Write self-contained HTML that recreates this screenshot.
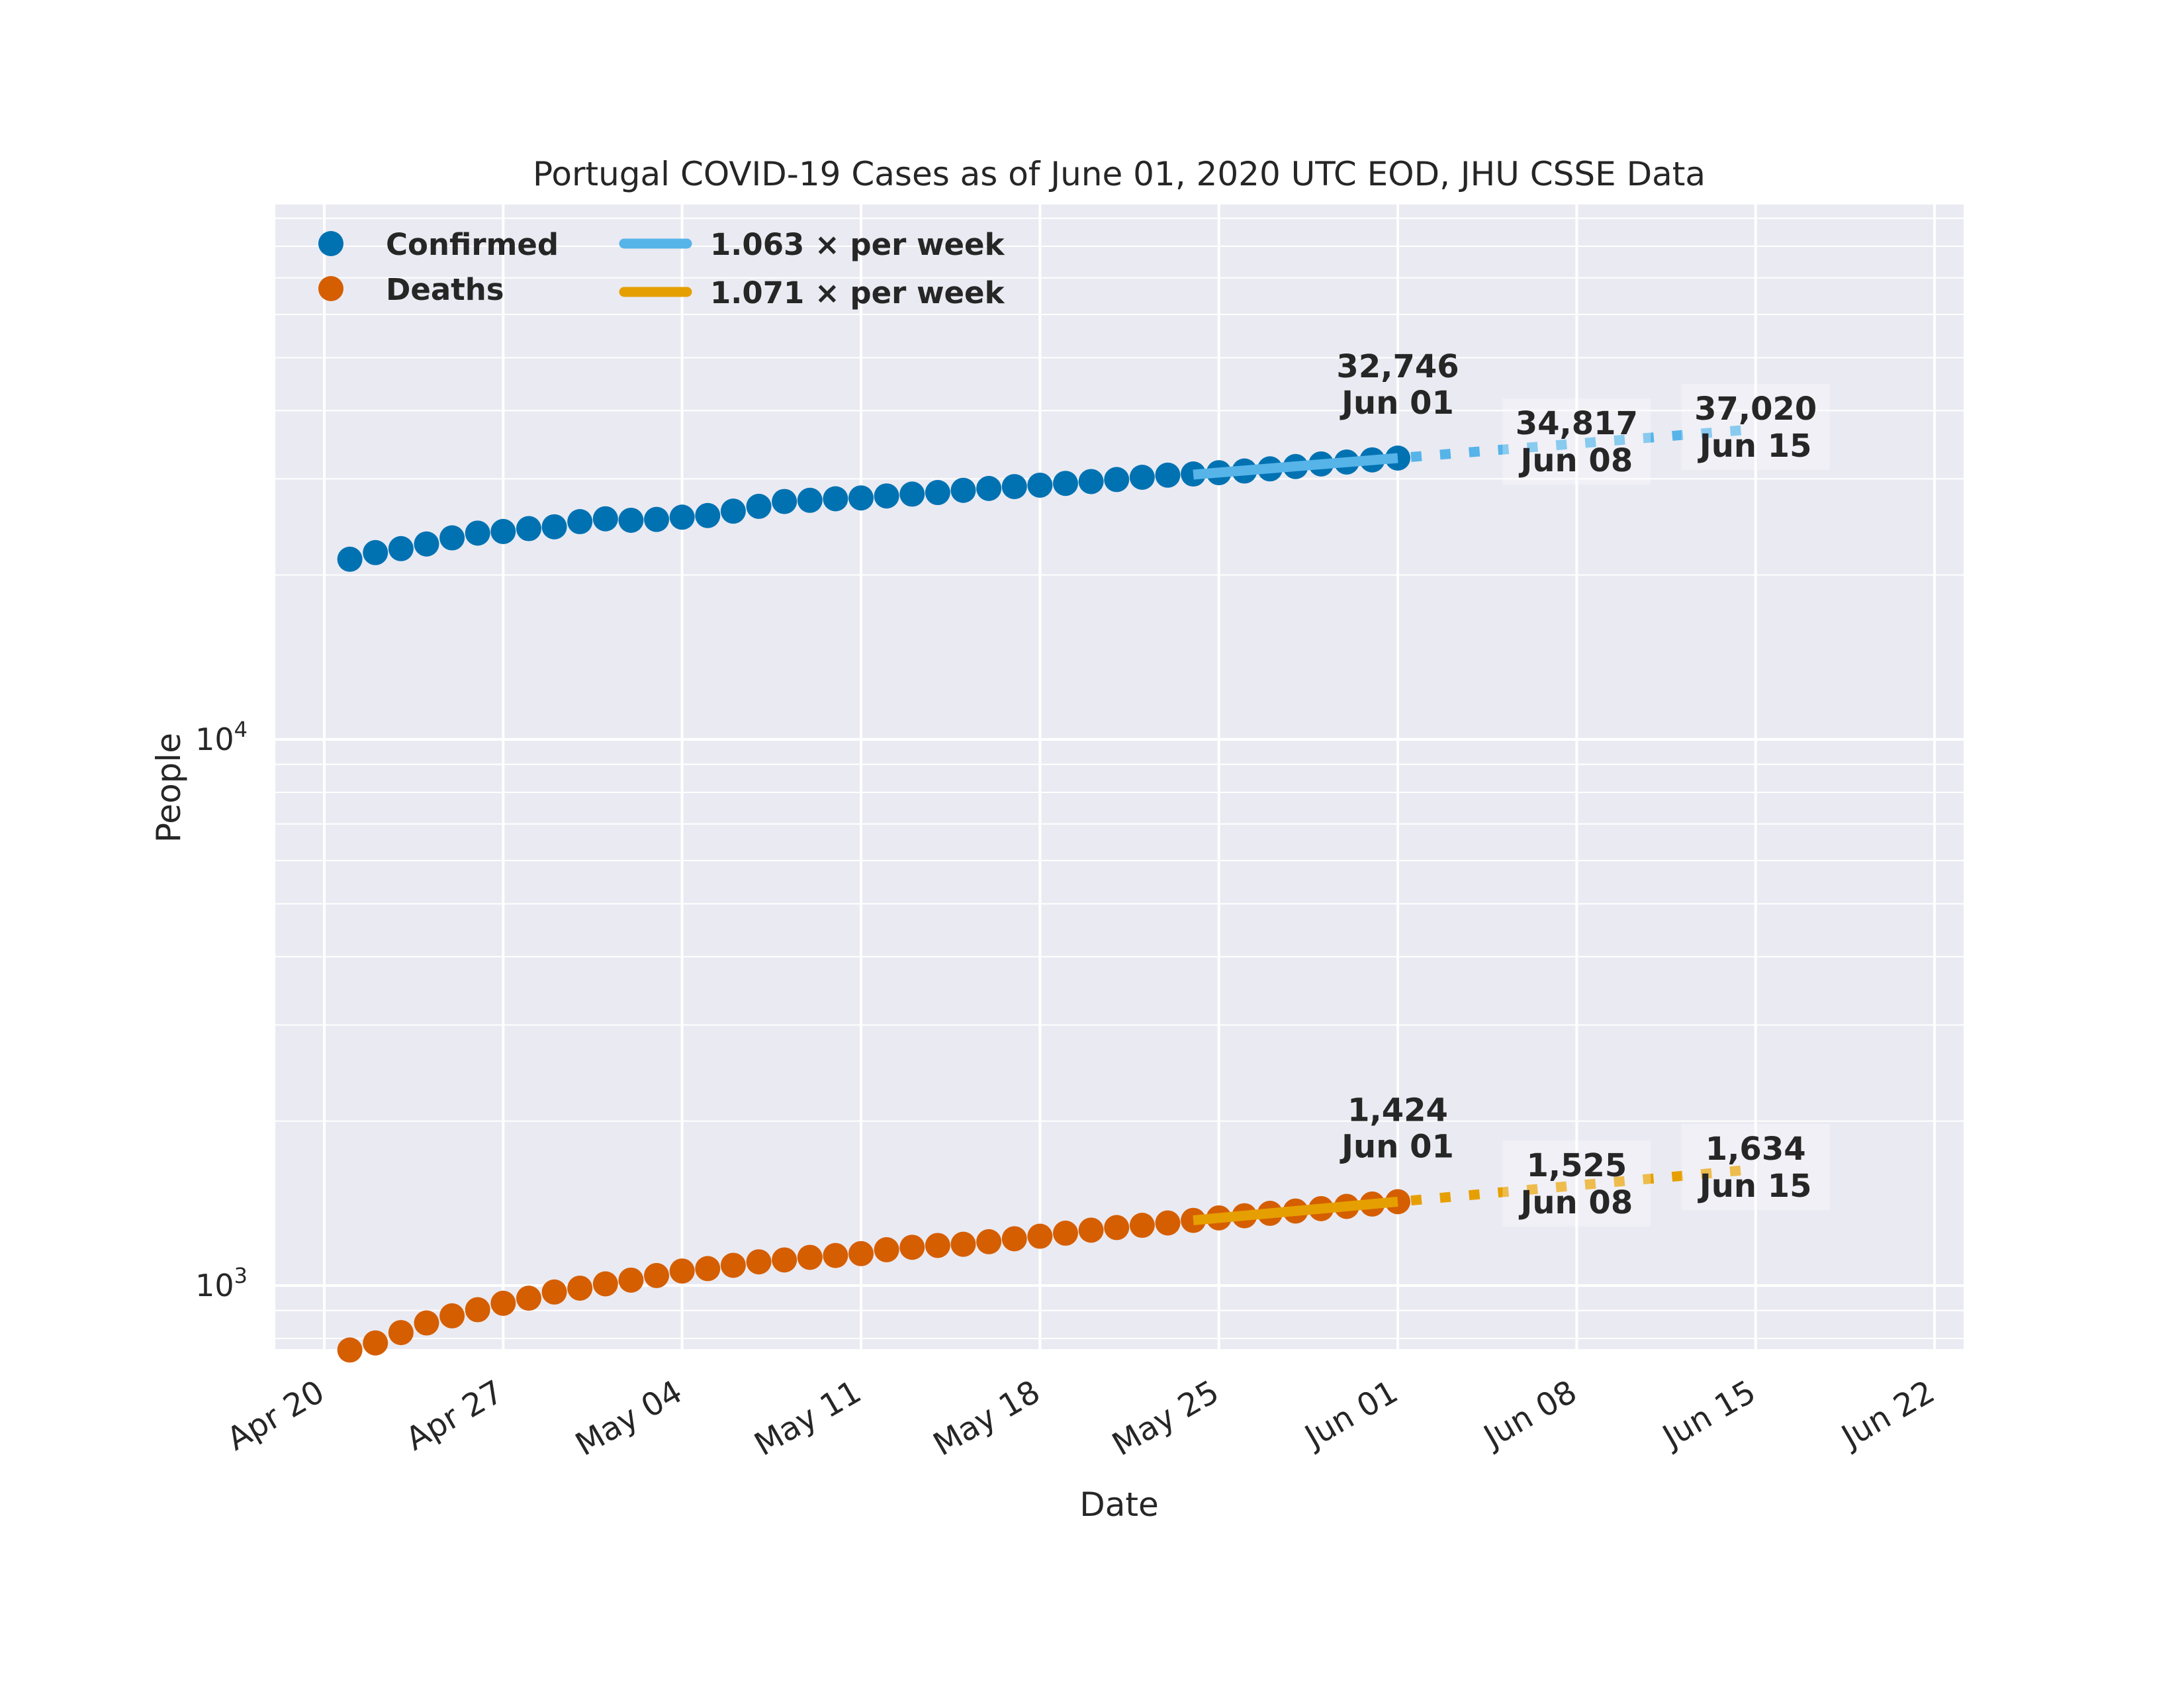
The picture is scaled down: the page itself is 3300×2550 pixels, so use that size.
<!DOCTYPE html>
<html><head><meta charset="utf-8"><style>
html,body{margin:0;padding:0;background:#fff}
svg{display:block;font-family:"DejaVu Sans","Liberation Sans",sans-serif}
</style></head><body>
<svg id="chart" width="3300" height="2550" viewBox="0 0 3300 2550" xmlns="http://www.w3.org/2000/svg">
<rect x="0" y="0" width="3300" height="2550" fill="#fff"/>
<rect x="416" y="309" width="2551" height="1729" fill="#eaeaf2"/>
<g id="grid"></g>
<g id="series"></g>
<g id="annots"></g>
<g id="axes"></g>
<text x="1691" y="280" font-size="50" fill="#262626" text-anchor="middle">Portugal COVID-19 Cases as of June 01, 2020 UTC EOD, JHU CSSE Data</text>
<text x="1691" y="2290" font-size="50" fill="#262626" text-anchor="middle">Date</text>
<text transform="translate(272,1190) rotate(-90)" font-size="50" fill="#262626" text-anchor="middle">People</text>
<g>
<circle cx="500" cy="368" r="19" fill="#0072b2"/>
<text x="583" y="385" font-size="45" font-weight="bold" fill="#262626">Confirmed</text>
<circle cx="500" cy="436" r="19" fill="#d55e00"/>
<text x="583" y="453" font-size="45" font-weight="bold" fill="#262626">Deaths</text>
<line x1="943" y1="368" x2="1038" y2="368" stroke="#56b4e9" stroke-width="15" stroke-linecap="round"/>
<text x="1073" y="385" font-size="45" font-weight="bold" fill="#262626">1.063 × per week</text>
<line x1="943" y1="441" x2="1038" y2="441" stroke="#e69f00" stroke-width="15" stroke-linecap="round"/>
<text x="1073" y="458" font-size="45" font-weight="bold" fill="#262626">1.071 × per week</text>
</g>
</svg>
<script>
const NS="http://www.w3.org/2000/svg";
// day index 0 = Apr 20
const xTickLabels=["Apr 20","Apr 27","May 04","May 11","May 18","May 25","Jun 01","Jun 08","Jun 15","Jun 22"];
const xTickDays=[0,7,14,21,28,35,42,49,56,63];
const startDay=1;
const confirmed=[21379,21982,22353,22797,23392,23864,24027,24322,24505,25045,25351,25190,25282,25524,25702,26182,26715,27268,27406,27581,27679,27913,28132,28319,28583,28810,29036,29209,29432,29660,29912,30200,30471,30623,30788,31007,31292,31596,31946,32203,32500,32746];
const deaths=[762,785,820,854,880,903,928,948,973,989,1007,1023,1043,1063,1074,1089,1105,1114,1126,1135,1144,1163,1175,1184,1190,1203,1218,1231,1247,1263,1277,1289,1302,1316,1330,1342,1356,1369,1383,1396,1410,1424];
const confRate=1.063, deathRate=1.071;
const fitStartDay=34, lastDay=42, projEndDay=56;
const projDays=[42,49,56];
const projDateLabels=["Jun 01","Jun 08","Jun 15"];
const confProj=[32746,34817,37020];
const deathProj=[1424,1525,1634];

function xs(d){return 490+d*38.62;}
function ys(v){return 1942-(Math.log10(v)-3)*825;}
function mk(tag,attrs,parent){const e=document.createElementNS(NS,tag);for(const k in attrs)e.setAttribute(k,attrs[k]);parent.appendChild(e);return e;}
const grid=document.getElementById('grid'),series=document.getElementById('series'),annots=document.getElementById('annots'),axes=document.getElementById('axes');
for(let k=2;k<=4;k++){for(let m=1;m<=9;m++){const v=m*Math.pow(10,k);const y=ys(v);if(y<309||y>2038)continue;
 const l=mk('line',{x1:416,x2:2967,y1:y,y2:y,stroke:'#fff','stroke-width':m===1?4:2},grid);
 
 }}
xTickDays.forEach((d,i)=>{const x=xs(d);
 const l=mk('line',{x1:x,x2:x,y1:309,y2:2038,stroke:'#fff','stroke-width':4},grid);
 
 
 const t=mk('text',{transform:`translate(${x-14},2082) rotate(-30)`,'font-size':48,fill:'#262626','text-anchor':'end','dominant-baseline':'hanging'},axes);
 t.textContent=xTickLabels[i];
 
 });
[3,4].forEach(k=>{const y=ys(Math.pow(10,k));
 const t=mk('text',{x:374,y:y+16,'font-size':46,fill:'#262626','text-anchor':'end'},axes);
 t.innerHTML='10<tspan font-size="32" dy="-20">'+k+'</tspan>';
 
 });
function drawSeries(arr,color,name){arr.forEach((v,i)=>{const c=mk('circle',{cx:xs(startDay+i),cy:ys(v),r:19,fill:color},series);
 
 });}
drawSeries(confirmed,'#0072b2','confirmed');
drawSeries(deaths,'#d55e00','deaths');
function drawFit(last,rate,color,name){
 const f=d=>last*Math.pow(rate,(d-lastDay)/7);
 const s=mk('line',{x1:xs(fitStartDay),y1:ys(f(fitStartDay)),x2:xs(lastDay),y2:ys(f(lastDay)),stroke:color,'stroke-width':15},series);
 
 
 const p=mk('line',{x1:xs(lastDay)+20,y1:ys(f(lastDay+20/38.62)),x2:xs(projEndDay),y2:ys(f(projEndDay)),stroke:color,'stroke-width':15,'stroke-dasharray':'16 28'},series);
 
 }
drawFit(confirmed[confirmed.length-1],confRate,'#56b4e9','confirmed');
drawFit(deaths[deaths.length-1],deathRate,'#e69f00','deaths');
function fmt(v){return v.toLocaleString('en-US');}
function drawAnn(vals,name){vals.forEach((v,i)=>{const x=xs(projDays[i]),y=ys(v);
 const first=i===0;
 const b1=first?y-122:y-14,b2=first?y-67:y+42;
 if(!first){const r=mk('rect',{x:x-112,y:b1-54,width:224,height:130,fill:'#fff','fill-opacity':0.3},annots);
  
  }
 const t1=mk('text',{x:x,y:b1,'font-size':48,'font-weight':'bold',fill:'#262626','text-anchor':'middle'},annots);
 t1.textContent=fmt(v);
 
 
 const t2=mk('text',{x:x,y:b2,'font-size':48,'font-weight':'bold',fill:'#262626','text-anchor':'middle'},annots);
 t2.textContent=projDateLabels[i];
 
 });}
drawAnn(confProj,'confirmed');
drawAnn(deathProj,'deaths');
</script>
</body></html>
